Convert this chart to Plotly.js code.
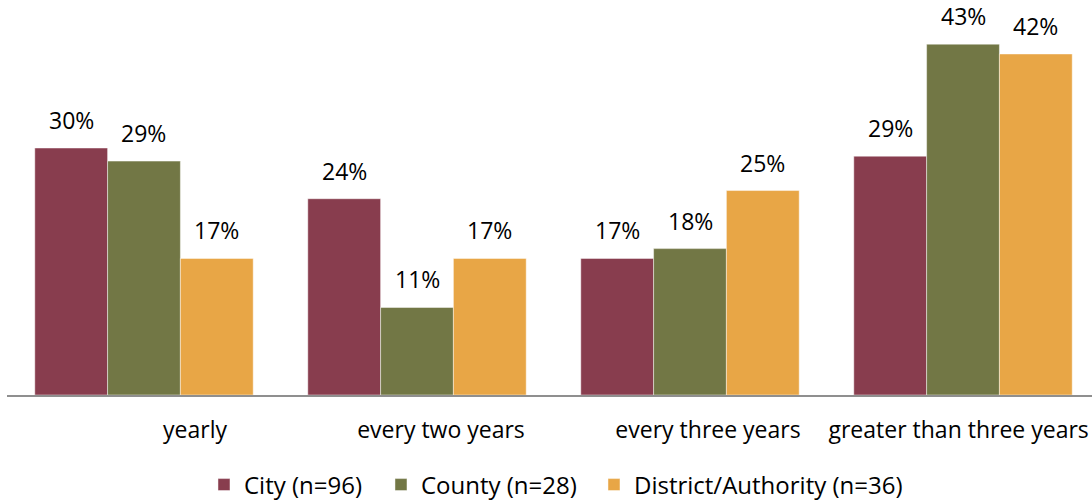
<!DOCTYPE html>
<html>
<head>
<meta charset="utf-8">
<script src="https://cdn.plot.ly/plotly-3.0.1.min.js"></script>
<style>html,body{margin:0;padding:0;background:#fff;}#chart{width:1092px;height:501px;}</style>
</head>
<body>
<div id="chart"></div>
<script>
// Data
var categories = ["yearly", "every two years", "every three years", "greater than three years"];
var seriesNames = ["City (n=96)", "County (n=28)", "District/Authority (n=36)"];
var cityValues = [30.2, 24.0, 16.7, 29.2];
var countyValues = [28.6, 10.7, 17.9, 42.9];
var districtValues = [16.7, 16.7, 25.0, 41.7];

// Styling / layout constants
var colors = ["#883D4E", "#727745", "#E8A646"];
var legendWidths = [132, 168, 270];
var labelShift = [0.187, 0.088, 0.066, -0.016];
var FONT = "Open Sans, Noto Sans, sans-serif";
var bargap = 0.2;

var seriesValues = [cityValues, countyValues, districtValues];
var xIdx = categories.map(function (_, i) { return i; });
var nSeries = seriesValues.length;
var barW = (1 - bargap) / nSeries;

var traces = seriesValues.map(function (vals, j) {
  return {
    type: "bar",
    name: seriesNames[j],
    legendwidth: legendWidths[j],
    x: xIdx,
    y: vals,
    marker: { color: colors[j], line: { color: "rgba(255,255,255,0.45)", width: 1 } },
    hoverinfo: "none"
  };
});

var annotations = [];
seriesValues.forEach(function (vals, j) {
  vals.forEach(function (v, i) {
    annotations.push({
      x: i + (j - (nSeries - 1) / 2) * barW,
      y: v,
      xref: "x", yref: "y",
      text: Math.round(v) + "%",
      showarrow: false,
      yanchor: "middle",
      yshift: 28,
      font: { family: FONT, size: 23, color: "#000" }
    });
  });
});

var layout = {
  width: 1092, height: 501,
  margin: { l: 7, r: 0, t: 0, b: 106, autoexpand: false },
  paper_bgcolor: "#fff", plot_bgcolor: "#fff",
  barmode: "group", bargap: bargap, bargroupgap: 0,
  showlegend: true,
  legend: {
    orientation: "h",
    xref: "container", yref: "paper",
    x: 0.1868, xanchor: "left",
    y: -0.2278, yanchor: "middle",
    font: { family: FONT, size: 24, color: "#000" },
    traceorder: "normal"
  },
  xaxis: {
    range: [-0.5018, 3.4725],
    tickvals: xIdx.map(function (i) { return i + labelShift[i]; }),
    ticktext: categories,
    ticks: "",
    ticklabelstandoff: 13,
    showgrid: false, zeroline: false,
    showline: true, linecolor: "#8F8F8F", linewidth: 2,
    tickfont: { family: FONT, size: 23, color: "#000" },
    fixedrange: true
  },
  yaxis: {
    range: [0, 48.3],
    visible: false,
    showgrid: false, zeroline: false,
    fixedrange: true
  },
  annotations: annotations
};

Plotly.newPlot("chart", traces, layout, { displayModeBar: false, staticPlot: true });
</script>
</body>
</html>
